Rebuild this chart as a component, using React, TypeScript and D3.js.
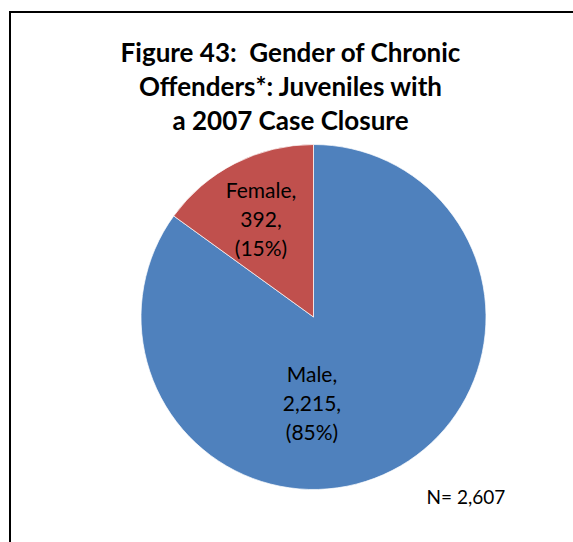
import React from "react";
import * as d3 from "d3";

const categories = ["Male", "Female"];
const counts = [2215, 392];
const percents = ["85%", "15%"];
const colors = ["#4F81BD", "#C0504D"];
const titleLines = ["Figure 43:  Gender of Chronic", "Offenders*: Juveniles with", "a 2007 Case Closure"];
const totalLabel = "N= 2,607";

export default function App() {
  const W = 573, H = 542;
  const cx = 313.5, cy = 317, r = 172.5;
  const pie = d3.pie<number>().sort(null).value((d) => d);
  const arcs = pie(counts);
  const arc = d3.arc<d3.PieArcDatum<number>>().innerRadius(0).outerRadius(r);
  const font = "Lato, 'Open Sans', sans-serif";
  const labelPos: [number, number][] = [[312, 373], [261, 189]];
  const fmt = d3.format(",");
  return (
    <svg width={W} height={H} style={{ position: "absolute", left: 0, top: 0, background: "#fff" }}>
      <rect x={10} y={12} width={W + 20} height={H + 20} fill="#fff" stroke="#000" strokeWidth={2} />
      {titleLines.map((t, i) => (
        <text key={i} x={290.5} y={52 + i * 34} textAnchor="middle" dominantBaseline="central"
          fontFamily={font} fontWeight="bold" fontSize={26} fill="#000" style={{ whiteSpace: "pre" }}>{t}</text>
      ))}
      <g transform={`translate(${cx},${cy})`}>
        {arcs.map((a, i) => (
          <path key={i} d={arc(a) || ""} fill={colors[i]} stroke="#fff" strokeWidth={0.7} />
        ))}
      </g>
      {arcs.map((a, i) => {
        const lines = [categories[i] + ",", fmt(counts[i]) + ",", "(" + percents[i] + ")"];
        return lines.map((l, j) => (
          <text key={i + "-" + j} x={labelPos[i][0]} y={labelPos[i][1] + j * 29} textAnchor="middle"
            dominantBaseline="central" fontFamily={font} fontSize={21} fill="#000">{l}</text>
        ));
      })}
      <text x={466} y={496} textAnchor="middle" dominantBaseline="central" fontFamily={font} fontSize={19} fill="#000">{totalLabel}</text>
    </svg>
  );
}
